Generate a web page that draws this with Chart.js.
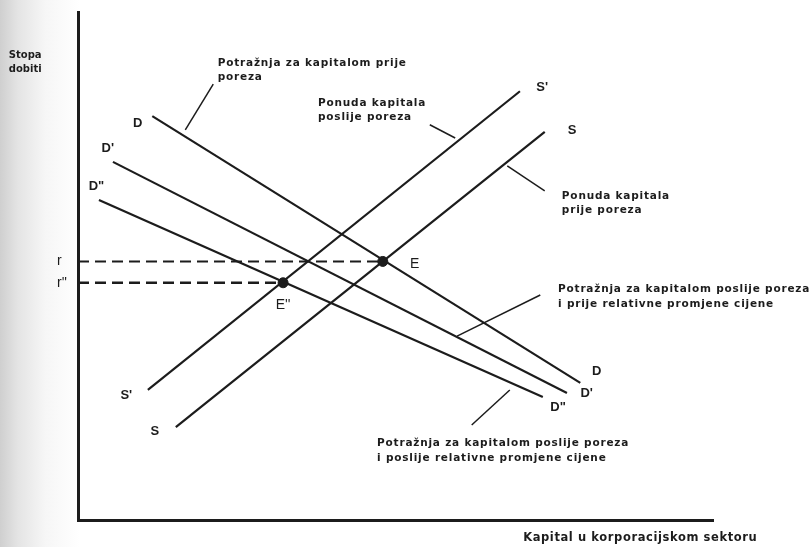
<!DOCTYPE html>
<html>
<head>
<meta charset="utf-8">
<script src="https://cdn.jsdelivr.net/npm/chart.js@4"></script>
<style>
  html, body { margin: 0; padding: 0; }
  body {
    width: 812px; height: 547px; overflow: hidden;
    background: linear-gradient(to right, #cfcfcf 0px, #e4e4e4 18px, #f6f6f6 45px, #ffffff 80px);
  }
  canvas { display: block; }
</style>
</head>
<body>
<canvas id="tax" width="812" height="547"></canvas>
<script>
// curves, in units of the diagram (0..100 on both axes)
const demandX = [11.7, 79.1];
const demandY = [79.5, 27.0];
const demandAfterX = [5.5, 77.0];
const demandAfterY = [70.5, 25.0];
const demandRelX = [3.3, 73.2];
const demandRelY = [63.0, 24.2];
const supplyAfterX = [11.0, 69.6];
const supplyAfterY = [25.6, 84.4];
const supplyX = [15.4, 73.5];
const supplyY = [18.3, 76.4];

// equilibria E and E''
const eqX = [48.0, 32.3];
const eqY = [50.9, 46.7];
const rateTicks = ["r", "r''"];

// leader lines from captions to curves
const leaderX = [[21.3, 16.9], [55.4, 59.4], [67.6, 73.5], [72.8, 59.7], [62.0, 68.0]];
const leaderY = [[85.8, 76.8], [77.8, 75.2], [69.7, 64.8], [44.3, 36.2], [18.7, 25.6]];

const ink = '#1c1c1c';

function pts(xs, ys) {
    return xs.map((x, i) => ({ x: x, y: ys[i] }));
}

function curve(xs, ys) {
    return {
        data: pts(xs, ys),
        showLine: true,
        borderColor: ink,
        borderWidth: 2.2,
        pointRadius: 0
    };
}

const datasets = [
    curve(demandX, demandY),
    curve(demandAfterX, demandAfterY),
    curve(demandRelX, demandRelY),
    curve(supplyAfterX, supplyAfterY),
    curve(supplyX, supplyY)
];

leaderX.forEach((xs, i) => {
    const d = curve(xs, leaderY[i]);
    d.borderWidth = 1.5;
    datasets.push(d);
});

// dashed lines from the axis to the equilibria
eqX.forEach((x, i) => {
    datasets.push({
        data: [{ x: 0, y: eqY[i] }, { x: x, y: eqY[i] }],
        showLine: true,
        borderColor: ink,
        borderWidth: i === 0 ? 2 : 2.6,
        borderDash: [11, 6],
        pointRadius: 0
    });
});

datasets.push({
    data: pts(eqX, eqY),
    showLine: false,
    pointRadius: 5,
    backgroundColor: ink,
    borderColor: ink
});

// text placed in diagram units
const letters = [
    ['D', 9.4, 78.0], ["D'", 4.7, 73.2], ['D"', 2.9, 65.6],
    ["S'", 73.1, 85.2], ['S', 77.8, 76.6],
    ["S'", 7.6, 24.5], ['S', 12.1, 17.5],
    ['D', 81.7, 29.2], ["D'", 80.1, 25.0], ['D"', 75.6, 22.2]
];
const pointNames = [['E', 53.0, 50.4], ["E''", 32.3, 42.3]];
// lines, x, y, font size, letter spacing
const captions = [
    [['Stopa', 'dobiti'], -10.9, 91.5, 10, 0],
    [['Potražnja za kapitalom prije', 'poreza'], 22.0, 90.0, 10.5, 0.8],
    [['Ponuda kapitala', 'poslije poreza'], 37.8, 82.1, 10.5, 0.8],
    [['Ponuda kapitala', 'prije poreza'], 76.2, 63.8, 10.5, 0.8],
    [['Potražnja za kapitalom poslije poreza', 'i prije relativne promjene cijene'], 75.6, 45.4, 10.5, 0.8],
    [['Potražnja za kapitalom poslije poreza', 'i poslije relativne promjene cijene'], 47.1, 15.1, 10.5, 0.8],
    [['Kapital u korporacijskom sektoru'], 70.1, -3.5, 11.5, 0.6]
];
const captionFont = '"DejaVu Sans", Verdana, sans-serif';

const textPlugin = {
    id: 'diagramText',
    afterDatasetsDraw(chart) {
        const ctx = chart.ctx;
        const xs = chart.scales.x, ys = chart.scales.y;
        ctx.save();
        ctx.fillStyle = ink;
        ctx.textBaseline = 'middle';

        ctx.textAlign = 'center';
        ctx.font = 'bold 13px "Liberation Sans", Arial, sans-serif';
        letters.forEach(([t, x, y]) => ctx.fillText(t, xs.getPixelForValue(x), ys.getPixelForValue(y)));

        ctx.font = '14px "Liberation Sans", Arial, sans-serif';
        pointNames.forEach(([t, x, y]) => ctx.fillText(t, xs.getPixelForValue(x), ys.getPixelForValue(y)));

        ctx.textAlign = 'left';
        captions.forEach(([lines, x, y, size, spacing]) => {
            ctx.font = 'bold ' + size + 'px ' + captionFont;
            ctx.letterSpacing = spacing + 'px';
            const px = xs.getPixelForValue(x);
            let py = ys.getPixelForValue(y);
            lines.forEach(l => {
                ctx.fillText(l, px, py);
                py += size + 4;
            });
        });
        ctx.letterSpacing = '0px';
        ctx.restore();
    }
};

const config = {
    type: 'scatter',
    data: { datasets: datasets },
    options: {
        responsive: false,
        animation: false,
        layout: {
            padding: { left: 57, right: 99, top: 12, bottom: 27 }
        },
        plugins: {
            legend: { display: false },
            tooltip: { enabled: false }
        },
        scales: {
            x: {
                type: 'linear',
                min: 0,
                max: 100,
                grid: { display: false, drawTicks: false },
                border: { display: true, width: 3, color: ink },
                ticks: { display: false }
            },
            y: {
                type: 'linear',
                min: 0,
                max: 100,
                grid: { display: false, drawTicks: false },
                border: { display: true, width: 3, color: ink },
                afterBuildTicks: axis => {
                    axis.ticks = eqY.map(v => ({ value: v }));
                },
                afterFit: axis => {
                    axis.width = 21;
                },
                ticks: {
                    autoSkip: false,
                    crossAlign: 'far',
                    color: ink,
                    font: { size: 14, family: '"Liberation Sans", Arial, sans-serif' },
                    callback: (v, i) => rateTicks[i]
                }
            }
        }
    },
    plugins: [textPlugin]
};

const taxChart = new Chart(document.getElementById('tax').getContext('2d'), config);
</script>
</body>
</html>
